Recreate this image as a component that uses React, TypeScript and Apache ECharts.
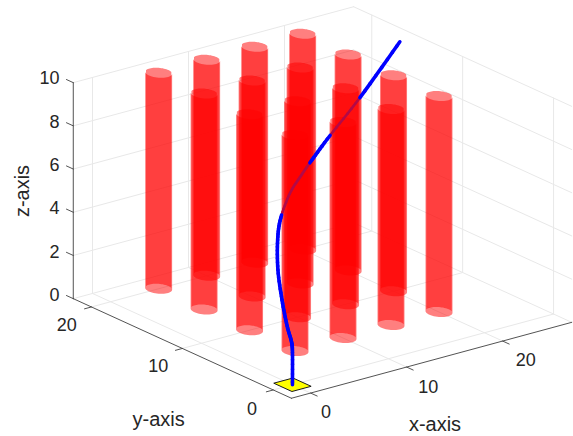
import React, { useEffect, useRef } from "react";
import * as echarts from "echarts";

const xTicks = [0, 10, 20];
const yTicks = [0, 10, 20];
const zTicks = [0, 2, 4, 6, 8, 10];
const xLim = [-2, 27.2];
const yLim = [-2, 22];
const zLim = [0, 10];
const cylX = [5, 10, 15, 20];
const cylY = [5, 10, 15, 20];
const cylRadius = 1.02;
const lineX = [0, 0, -0.09, -0.25, 1.27, 2.2, 4.3, 6.09, 8.71, 10.41, 11.75, 14.03, 17.69, 25.2];
const lineY = [0, 0, 0.01, 0.33, 2.49, 3.92, 6.17, 7.72, 9.47, 10.17, 10.29, 10.68, 11.26, 14.8];
const lineZ = [0, 1.5, 2.0, 2.7, 3.3, 4.3, 5.0, 5.5, 6.0, 6.4, 7.0, 7.8, 9.0, 10];
const padX = [-1, 1, 1, -1];
const padY = [-1, -1, 1, 1];

const xLabelPos = [[326, 412], [428.3, 387], [525.7, 360.3]];
const yLabelPos = [[252, 408.5], [158.3, 366], [66.7, 325]];
const zLabelX = 59.5;
const zLabelY = [295, 252, 208, 165, 122, 78];

const FONT = "Liberation Sans";
const TEXT = "#262626";
const GRID = "#e8e8e8";
const AXIS = "#404040";

// Orthographic view
const project = (x: number, y: number, z: number): number[] => [
  295 + 9.6 * (x - 5) - 9.09 * (y - 5),
  135 - 2.6 * (x - 5) - 4.15 * (y - 5) + 21.6 * (10 - z),
];
const depth = (x: number, y: number) => 9.09 * x + 9.6 * y;

type Item =
  | { k: "line"; pts: number[][]; color: string; width: number }
  | { k: "poly"; pts: number[][]; fill: string; stroke?: string }
  | { k: "text"; at: number[]; text: string; size: number; align: string; rot?: number };

const items: Item[] = [];
const seg = (a: number[], b: number[], color: string, width: number) =>
  items.push({ k: "line", pts: [project(a[0], a[1], a[2]), project(b[0], b[1], b[2])], color, width });

const [x0, x1] = xLim;
const [y0, y1] = yLim;
const [z0, z1] = zLim;

// grid
xTicks.forEach((x) => {
  seg([x, y0, z0], [x, y1, z0], GRID, 1);
  seg([x, y1, z0], [x, y1, z1], GRID, 1);
});
yTicks.forEach((y) => {
  seg([x0, y, z0], [x1, y, z0], GRID, 1);
  seg([x1, y, z0], [x1, y, z1], GRID, 1);
});
zTicks.forEach((z) => {
  seg([x0, y1, z], [x1, y1, z], GRID, 1);
  seg([x1, y0, z], [x1, y1, z], GRID, 1);
});
// axes
seg([x0, y0, z0], [x1, y0, z0], AXIS, 0.9);
seg([x0, y0, z0], [x0, y1, z0], AXIS, 0.9);
seg([x0, y1, z0], [x0, y1, z1], AXIS, 0.9);
xTicks.forEach((x) => seg([x, y0, z0], [x, y0 - 0.72, z0], AXIS, 0.9));
yTicks.forEach((y) => seg([x0, y, z0], [x0 - 0.72, y, z0], AXIS, 0.9));
zTicks.forEach((z) => seg([x0, y1, z], [x0, y1 + 0.75, z], AXIS, 0.9));

// labels
xTicks.forEach((x, i) =>
  items.push({ k: "text", at: xLabelPos[i], text: String(x), size: 18, align: "center" }),
);
yTicks.forEach((y, i) =>
  items.push({ k: "text", at: yLabelPos[i], text: String(y), size: 18, align: "center" }),
);
zTicks.forEach((z, i) =>
  items.push({ k: "text", at: [zLabelX, zLabelY[i]], text: String(z), size: 18, align: "right" }),
);
items.push({ k: "text", at: [435, 424], text: "x-axis", size: 20, align: "center" });
items.push({ k: "text", at: [158.7, 419], text: "y-axis", size: 20, align: "center" });
items.push({ k: "text", at: [22, 191], text: "z-axis", size: 20, align: "center", rot: Math.PI / 2 });

// landing pad
items.push({
  k: "poly",
  pts: padX.map((x, i) => project(x, padY[i], 0)),
  fill: "#ffff00",
  stroke: "#1a1a1a",
});

// cylinders, far to near
const RED = "rgba(255,0,0,0.5)";
const SIL = (-43.4 * Math.PI) / 180;
const arcWall = (cx: number, cy: number, a: number, b: number) => {
  const top: number[][] = [];
  const bottom: number[][] = [];
  const n = 24;
  for (let i = 0; i <= n; i++) {
    const t = a + ((b - a) * i) / n;
    const px = cx + cylRadius * Math.cos(t);
    const py = cy + cylRadius * Math.sin(t);
    top.push(project(px, py, z1));
    bottom.unshift(project(px, py, z0));
  }
  return top.concat(bottom);
};
const cyls: number[][] = [];
cylY.forEach((y) => cylX.forEach((x) => cyls.push([x, y])));
const sorted = cyls.slice().sort((a, b) => depth(b[0], b[1]) - depth(a[0], a[1]));
const inset = (20 * Math.PI) / 180;
sorted.forEach(([cx, cy]) => {
  items.push({ k: "poly", pts: arcWall(cx, cy, SIL + inset, SIL + Math.PI - inset), fill: RED });
  items.push({ k: "poly", pts: arcWall(cx, cy, SIL + Math.PI, SIL + 2 * Math.PI), fill: RED });
});

// flight path: dimmed where it runs behind a cylinder
const behind = (x: number, y: number, z: number) => {
  const p = project(x, y, z);
  return cyls.some(([cx, cy]) => {
    const c = project(cx, cy, z1);
    const b = project(cx, cy, z0);
    return Math.abs(p[0] - c[0]) < 13 && p[1] > c[1] && p[1] < b[1] && depth(x, y) > depth(cx, cy);
  });
};
// smooth drawing of the read points
const cr = (v: number[], i: number, f: number) => {
  const p0 = v[Math.max(i - 1, 0)];
  const p1 = v[i];
  const p2 = v[i + 1];
  const p3 = v[Math.min(i + 2, v.length - 1)];
  return (
    0.5 *
    (2 * p1 +
      (p2 - p0) * f +
      (2 * p0 - 5 * p1 + 4 * p2 - p3) * f * f +
      (3 * p1 - p0 - 3 * p2 + p3) * f * f * f)
  );
};
const BLUE = "#0000ff";
const DIM = "#b30a48";
const SUB = 8;
const pieces: Item[] = [];
for (let i = 0; i + 1 < lineX.length; i++) {
  for (let j = 0; j < SUB; j++) {
    const at = (f: number) => [cr(lineX, i, f), cr(lineY, i, f), cr(lineZ, i, f)];
    const a = at(j / SUB);
    const b = at((j + 1) / SUB);
    const m = at((j + 0.5) / SUB);
    const hid = behind(m[0], m[1], m[2]);
    pieces.push({
      k: "line",
      pts: [project(a[0], a[1], a[2]), project(b[0], b[1], b[2])],
      color: hid ? DIM : BLUE,
      width: hid ? 2.6 : 3.6,
    });
  }
}
// dim pieces first, so the solid line stays on top at joins
pieces.filter((p: any) => p.color !== BLUE).forEach((p) => items.push(p));
pieces.filter((p: any) => p.color === BLUE).forEach((p) => items.push(p));

export default function App() {
  const ref = useRef<HTMLDivElement>(null);
  useEffect(() => {
    document.body.style.margin = "0";
    const chart = echarts.init(ref.current!, undefined, { renderer: "svg" });
    chart.setOption({
      animation: false,
      backgroundColor: "#ffffff",
      grid: { left: 0, right: 0, top: 0, bottom: 0 },
      xAxis: { type: "value", min: 0, max: 573, show: false },
      yAxis: { type: "value", min: 0, max: 436, inverse: true, show: false },
      series: [
        {
          type: "custom",
          coordinateSystem: "cartesian2d",
          clip: false,
          silent: true,
          data: items.map((_, i) => [i]),
          encode: { x: 0 },
          renderItem: (params: any, api: any) => {
            const it = items[params.dataIndex];
            if (it.k === "line") {
              const a = api.coord(it.pts[0]);
              const b = api.coord(it.pts[1]);
              return {
                type: "line",
                shape: { x1: a[0], y1: a[1], x2: b[0], y2: b[1] },
                style: { stroke: it.color, lineWidth: it.width, lineCap: "round" },
              };
            }
            if (it.k === "poly") {
              return {
                type: "polygon",
                shape: { points: it.pts.map((p) => api.coord(p)) },
                style: {
                  fill: it.fill,
                  stroke: it.stroke || "none",
                  lineWidth: it.stroke ? 1 : 0,
                },
              };
            }
            const c = api.coord(it.at);
            return {
              type: "text",
              x: c[0],
              y: c[1],
              rotation: it.rot || 0,
              style: {
                text: it.text,
                fill: TEXT,
                fontFamily: FONT,
                fontSize: it.size,
                align: it.align,
                verticalAlign: "middle",
              },
            };
          },
        },
      ],
    });
    return () => chart.dispose();
  }, []);
  return <div ref={ref} style={{ width: 573, height: 436 }} />;
}
